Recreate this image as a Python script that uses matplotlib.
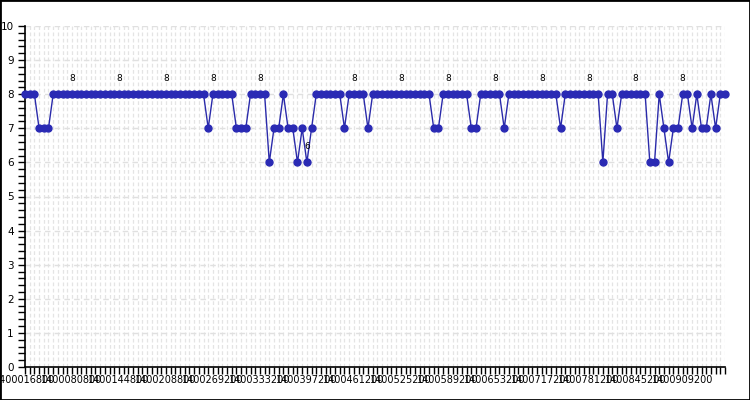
import matplotlib
matplotlib.use("Agg")
import matplotlib.pyplot as plt
from matplotlib.patches import Rectangle
from matplotlib.ticker import MultipleLocator

# ---- data ----
values = [8, 8, 8, 7, 7, 7, 8, 8, 8, 8,
          8, 8, 8, 8, 8, 8, 8, 8, 8, 8,
          8, 8, 8, 8, 8, 8, 8, 8, 8, 8,
          8, 8, 8, 8, 8, 8, 8, 8, 8, 7,
          8, 8, 8, 8, 8, 7, 7, 7, 8, 8,
          8, 8, 6, 7, 7, 8, 7, 7, 6, 7,
          6, 7, 8, 8, 8, 8, 8, 8, 7, 8,
          8, 8, 8, 7, 8, 8, 8, 8, 8, 8,
          8, 8, 8, 8, 8, 8, 8, 7, 7, 8,
          8, 8, 8, 8, 8, 7, 7, 8, 8, 8,
          8, 8, 7, 8, 8, 8, 8, 8, 8, 8,
          8, 8, 8, 8, 7, 8, 8, 8, 8, 8,
          8, 8, 8, 6, 8, 8, 7, 8, 8, 8,
          8, 8, 8, 6, 6, 8, 7, 6, 7, 7,
          8, 8, 7, 8, 7, 7, 8, 7, 8, 8]
label_positions = [0, 10, 20, 30, 40, 50, 60, 70, 80, 90, 100, 110, 120, 130, 140]
tick_texts = ["1400016800", "1400080800", "1400144800", "1400208800", "1400269200",
              "1400333200", "1400397200", "1400461200", "1400525200", "1400589200",
              "1400653200", "1400717200", "1400781200", "1400845200", "1400909200"]
annot_positions = [10, 20, 30, 40, 50, 60, 70, 80, 90, 100, 110, 120, 130, 140]

x = list(range(len(values)))

fig = plt.figure(figsize=(7.5, 4.0), dpi=100)
fig.patches.append(Rectangle((0, 0), 1, 1, transform=fig.transFigure,
                             fill=False, edgecolor="black", linewidth=2))
ax = fig.add_axes([25 / 750, 33 / 400, 700 / 750, 341 / 400])

line_color = "#2a2aaa"
ax.plot(x, values, color=line_color, linewidth=1.0, marker="o", markersize=5,
        markerfacecolor="#2a2ab4", markeredgecolor="#2a2ab4", clip_on=False, zorder=3)

for p in annot_positions:
    ax.annotate(str(values[p]), (p, values[p]), xytext=(0, 8), textcoords="offset points",
                ha="center", va="bottom", fontsize=6.5, color="black", zorder=4)

ax.set_xlim(0, len(values) - 1)
ax.set_ylim(0, 10)

labels = [""] * len(values)
for p, t in zip(label_positions, tick_texts):
    labels[p] = t
ax.set_xticks(x)
ax.set_xticklabels(labels, fontsize=7)
ax.yaxis.set_major_locator(MultipleLocator(1))
ax.yaxis.set_minor_locator(MultipleLocator(0.2))
ax.tick_params(axis="y", which="both", length=5, width=1, labelsize=7.5, pad=3)
ax.tick_params(axis="x", which="both", length=5, width=1, pad=1)

ax.grid(True, which="major", axis="y", color="#e0e0e0", linestyle=(0, (4, 3)), linewidth=1)
ax.grid(True, which="major", axis="x", color="#e4e4e4", linestyle=(0, (3, 2)), linewidth=0.9)
ax.set_axisbelow(True)

for s in ["top", "right"]:
    ax.spines[s].set_visible(False)
for s in ["left", "bottom"]:
    ax.spines[s].set_linewidth(1.2)
    ax.spines[s].set_color("black")

fig.savefig("out.png", dpi=100)
